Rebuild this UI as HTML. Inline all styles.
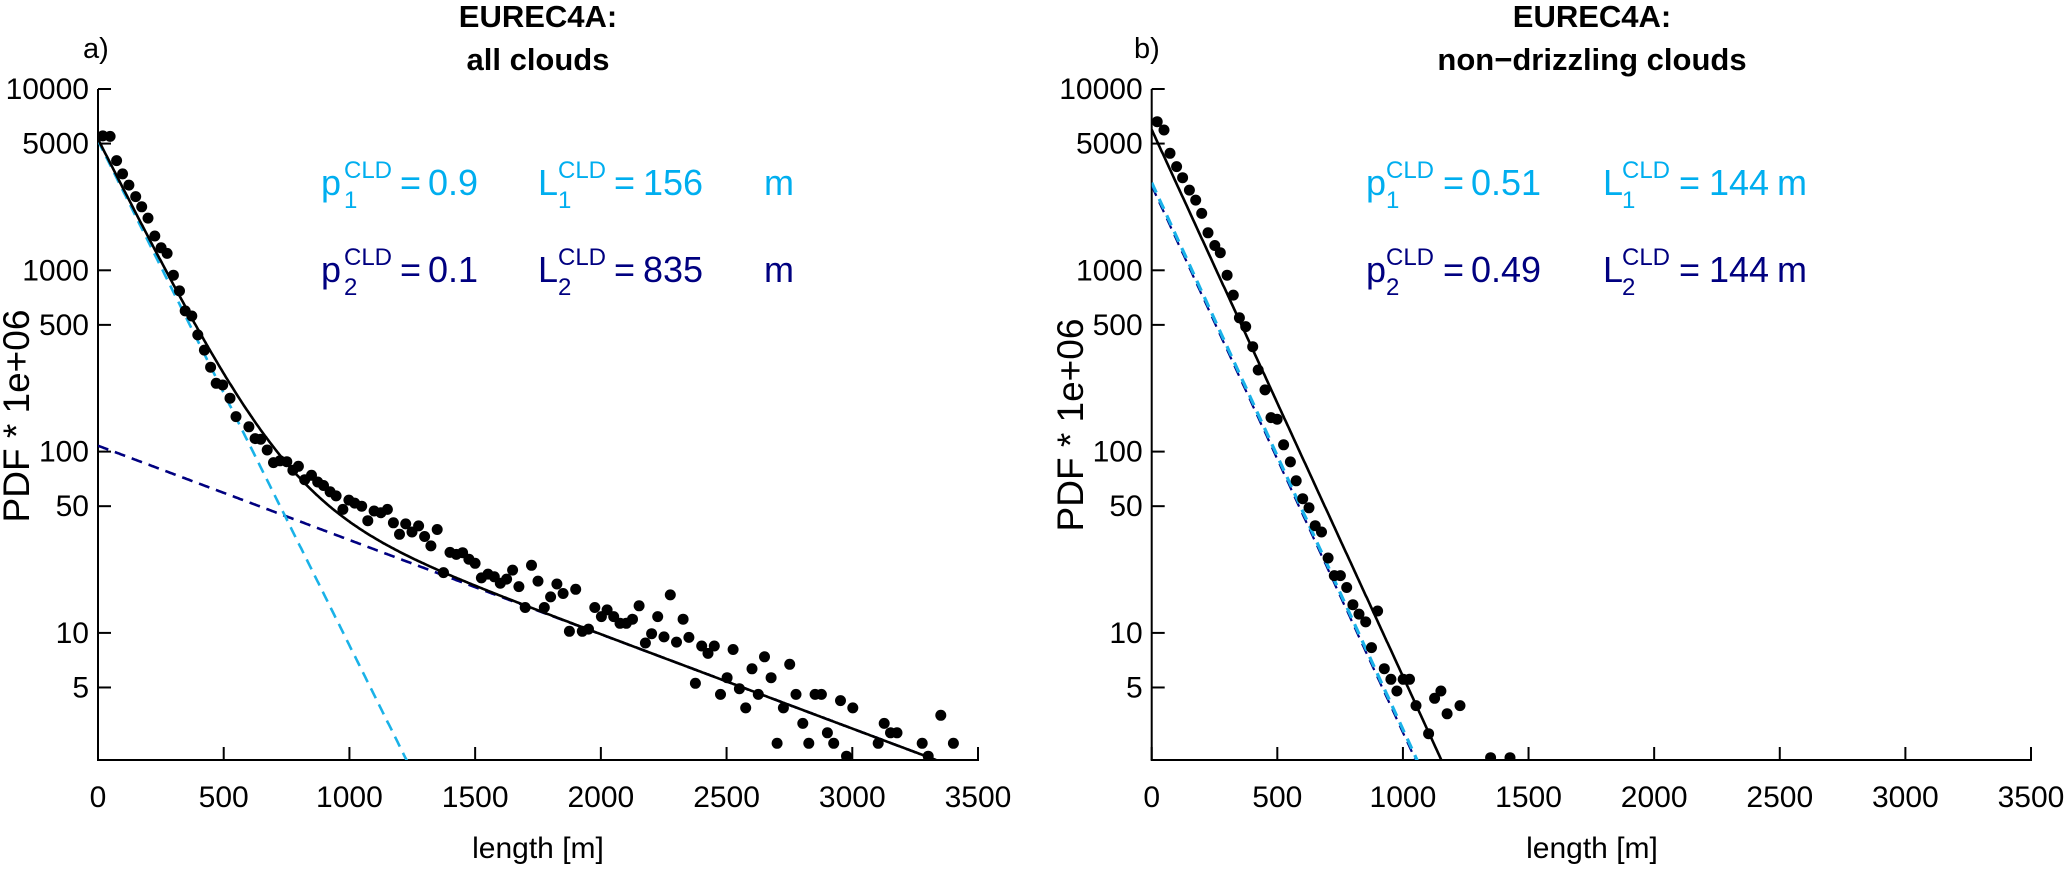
<!DOCTYPE html>
<html>
<head>
<meta charset="utf-8">
<style>
  html, body { margin:0; padding:0; background:#fff; }
  svg { display:block; }
  text { font-family: "Liberation Sans", Arial, sans-serif; }
</style>
</head>
<body>
<svg id="fig" width="2067" height="869" viewBox="0 0 2067 869" xmlns="http://www.w3.org/2000/svg">
  <defs>
    <clipPath id="clipA"><rect x="98" y="89" width="880" height="671"/></clipPath>
    <clipPath id="clipB"><rect x="1151.7" y="89" width="880" height="671"/></clipPath>
  </defs>

  <text x="83" y="58" font-size="29">a)</text>
  <text x="538" y="27" font-size="31" font-weight="bold" text-anchor="middle">EUREC4A:</text>
  <text x="538" y="70" font-size="31" font-weight="bold" text-anchor="middle">all clouds</text>
  <text transform="translate(29,416) rotate(-90)" font-size="37" text-anchor="middle">PDF * 1e+06</text>
  <text x="538" y="858" font-size="30" text-anchor="middle">length [m]</text>

  <g fill="#00AEEF">
    <text x="321" y="195" font-size="36">p</text>
    <text x="344" y="208" font-size="24">1</text>
    <text x="344" y="178" font-size="24">CLD</text>
    <text x="400" y="195" font-size="36">=</text>
    <text x="428" y="195" font-size="36">0.9</text>
    <text x="538" y="195" font-size="36">L</text>
    <text x="558" y="208" font-size="24">1</text>
    <text x="558" y="178" font-size="24">CLD</text>
    <text x="614" y="195" font-size="36">=</text>
    <text x="643" y="195" font-size="36">156</text>
    <text x="764" y="195" font-size="36">m</text>
  </g>
  <g fill="#000080">
    <text x="321" y="282" font-size="36">p</text>
    <text x="344" y="295" font-size="24">2</text>
    <text x="344" y="265" font-size="24">CLD</text>
    <text x="400" y="282" font-size="36">=</text>
    <text x="428" y="282" font-size="36">0.1</text>
    <text x="538" y="282" font-size="36">L</text>
    <text x="558" y="295" font-size="24">2</text>
    <text x="558" y="265" font-size="24">CLD</text>
    <text x="614" y="282" font-size="36">=</text>
    <text x="643" y="282" font-size="36">835</text>
    <text x="764" y="282" font-size="36">m</text>
  </g>

  <text x="1134" y="58" font-size="29">b)</text>
  <text x="1592" y="27" font-size="31" font-weight="bold" text-anchor="middle">EUREC4A:</text>
  <text x="1592" y="70" font-size="31" font-weight="bold" text-anchor="middle">non−drizzling clouds</text>
  <text transform="translate(1083,425) rotate(-90)" font-size="37" text-anchor="middle">PDF * 1e+06</text>
  <text x="1592" y="858" font-size="30" text-anchor="middle">length [m]</text>

  <g fill="#00AEEF">
    <text x="1366" y="195" font-size="36">p</text>
    <text x="1386" y="208" font-size="24">1</text>
    <text x="1386" y="178" font-size="24">CLD</text>
    <text x="1443" y="195" font-size="36">=</text>
    <text x="1471" y="195" font-size="36">0.51</text>
    <text x="1603" y="195" font-size="36">L</text>
    <text x="1622" y="208" font-size="24">1</text>
    <text x="1622" y="178" font-size="24">CLD</text>
    <text x="1679" y="195" font-size="36">=</text>
    <text x="1709" y="195" font-size="36">144</text>
    <text x="1777" y="195" font-size="36">m</text>
  </g>
  <g fill="#000080">
    <text x="1366" y="282" font-size="36">p</text>
    <text x="1386" y="295" font-size="24">2</text>
    <text x="1386" y="265" font-size="24">CLD</text>
    <text x="1443" y="282" font-size="36">=</text>
    <text x="1471" y="282" font-size="36">0.49</text>
    <text x="1603" y="282" font-size="36">L</text>
    <text x="1622" y="295" font-size="24">2</text>
    <text x="1622" y="265" font-size="24">CLD</text>
    <text x="1679" y="282" font-size="36">=</text>
    <text x="1709" y="282" font-size="36">144</text>
    <text x="1777" y="282" font-size="36">m</text>
  </g>
</svg>

<script>
const xTickLabels = [0, 500, 1000, 1500, 2000, 2500, 3000, 3500];
const yTickLabels = [10000, 5000, 1000, 500, 100, 50, 10, 5];

const lengthsA = [19,48,74,98,123,150,174,199,226,251,275,300,324,347,373,397,423,448,470,496,525,549,600,625,647,673,698,724,751,775,797,822,849,874,897,923,947,974,998,1021,1049,1073,1098,1125,1151,1175,1199,1224,1249,1275,1299,1324,1349,1374,1400,1425,1450,1475,1500,1525,1551,1576,1600,1625,1649,1674,1699,1724,1750,1775,1800,1825,1850,1875,1900,1926,1951,1976,2002,2025,2051,2076,2101,2126,2152,2177,2202,2226,2251,2276,2301,2327,2350,2376,2401,2426,2451,2476,2502,2526,2551,2576,2601,2626,2651,2677,2701,2726,2751,2776,2803,2827,2852,2877,2901,2926,2953,2977,3002,3103,3127,3152,3178,3278,3302,3352,3402];
const pdfA = [5510,5480,4030,3400,2950,2550,2240,1940,1545,1330,1240,940,770,597,560,440,363,292,238,233,197,156,137,118,117,102,87,89,88,79,83,70,74,68,65,60,57,48,54,52,50,41.6,47,46,48,40.5,35,39.9,36,38.9,34,30.2,37.2,21.5,27.8,27.1,27.7,25.5,24.2,20.1,21.1,20.4,18.8,19.8,22.2,18,13.8,23.6,19.3,13.8,15.8,18.6,16.5,10.2,17.4,10.2,10.5,13.8,12.3,13.4,12.3,11.3,11.3,11.9,14.1,8.8,9.9,12.3,9.5,16.2,8.9,11.9,9.45,5.27,8.47,7.71,8.47,4.58,5.66,8.1,4.92,3.86,6.34,4.58,7.38,5.66,2.46,3.86,6.71,4.58,3.17,2.46,4.58,4.58,2.81,2.46,4.23,2.09,3.86,2.46,3.17,2.81,2.81,2.46,2.09,3.51,2.46];

const lengthsB = [22,49,73,99,123,150,175,199,224,251,273,300,325,349,374,402,424,451,475,499,525,552,575,601,626,651,676,702,727,751,776,801,825,852,875,899,926,952,976,1001,1026,1052,1102,1126,1151,1176,1227,1349,1426];
const pdfB = [6600,5940,4420,3730,3240,2770,2440,2060,1610,1370,1250,940,730,547,489,379,282,219,154,151,109,87.7,69,55,49,39,36,25.9,20.7,20.7,17.8,14.3,12.7,11.5,8.3,13.2,6.35,5.55,4.78,5.55,5.55,3.97,2.78,4.36,4.78,3.58,3.97,2.05,2.05];

const fitPA = [0.9, 0.1];
const fitLA = [156, 835];
const fitPB = [0.51, 0.49];
const fitLB = [144, 144];
const normA = 0.9;
const normB = 0.86;

const SVGNS = "http://www.w3.org/2000/svg";
const svg = document.getElementById('fig');
const Y_TOP = 89, Y_BOT = 760, DEC = 181.3;
function yScale(v) { return Y_TOP + (4 - Math.log10(v)) * DEC; }
function makeX(x0, x1) { return v => x0 + (v / 3500) * (x1 - x0); }

function el(tag, attrs) {
  const e = document.createElementNS(SVGNS, tag);
  for (const k in attrs) e.setAttribute(k, attrs[k]);
  return e;
}

function drawPanel(id, x0, x1, lengths, pdf, P, L, norm, clipId, navyW, cyanW) {
  const xs = makeX(x0, x1);
  const g = el('g', {});
  
  
  svg.appendChild(g);

  const yAxis = el('line', {x1: x0, y1: Y_TOP, x2: x0, y2: Y_BOT, stroke: '#000', 'stroke-width': 2});
  
  
  g.appendChild(yAxis);
  const xAxis = el('line', {x1: x0 - 1, y1: Y_BOT, x2: x1 + 1, y2: Y_BOT, stroke: '#000', 'stroke-width': 2});
  
  
  g.appendChild(xAxis);

  yTickLabels.forEach(v => {
    const y = yScale(v);
    const t = el('line', {x1: x0, y1: y, x2: x0 + 13, y2: y, stroke: '#000', 'stroke-width': 2});
    
    
    g.appendChild(t);
    const lb = el('text', {x: x0 - 9, y: y + 10, 'font-size': 30, 'text-anchor': 'end'});
    lb.textContent = String(v);
    
    
    g.appendChild(lb);
  });
  xTickLabels.forEach(v => {
    const x = xs(v);
    const t = el('line', {x1: x, y1: Y_BOT, x2: x, y2: Y_BOT - 13, stroke: '#000', 'stroke-width': 2});
    
    
    g.appendChild(t);
    const lb = el('text', {x: x, y: 807, 'font-size': 30, 'text-anchor': 'middle'});
    lb.textContent = String(v);
    
    
    g.appendChild(lb);
  });

  const plot = el('g', {'clip-path': 'url(#' + clipId + ')'});
  
  
  g.appendChild(plot);

  function curvePath(fn) {
    let d = '';
    for (let x = 0; x <= 3500; x += 4) {
      const v = fn(x);
      if (v <= 0) break;
      const y = yScale(v);
      d += (d ? 'L' : 'M') + xs(x).toFixed(1) + ' ' + y.toFixed(1);
      if (y > Y_BOT + 20) break;
    }
    return d;
  }
  const comp = i => x => norm * 1e6 * P[i] / L[i] * Math.exp(-x / L[i]);

  const navy = el('path', {d: curvePath(comp(1)), fill: 'none', stroke: '#000080', 'stroke-width': navyW, 'stroke-dasharray': '11 7'});
  
  
  plot.appendChild(navy);
  const cyan = el('path', {d: curvePath(comp(0)), fill: 'none', stroke: '#1AB2E8', 'stroke-width': cyanW, 'stroke-dasharray': '11 7'});
  
  
  plot.appendChild(cyan);
  const total = el('path', {d: curvePath(x => comp(0)(x) + comp(1)(x)), fill: 'none', stroke: '#000', 'stroke-width': 2.6});
  
  
  plot.appendChild(total);

  lengths.forEach((len, i) => {
    const c = el('circle', {cx: xs(len).toFixed(1), cy: yScale(pdf[i]).toFixed(1), r: 5.5, fill: '#000'});
    
    
    plot.appendChild(c);
  });
}

drawPanel('a', 98, 978, lengthsA, pdfA, fitPA, fitLA, normA, 'clipA', 2.6, 2.6);
drawPanel('b', 1151.7, 2031, lengthsB, pdfB, fitPB, fitLB, normB, 'clipB', 2.2, 3.2);
</script>
</body>
</html>
